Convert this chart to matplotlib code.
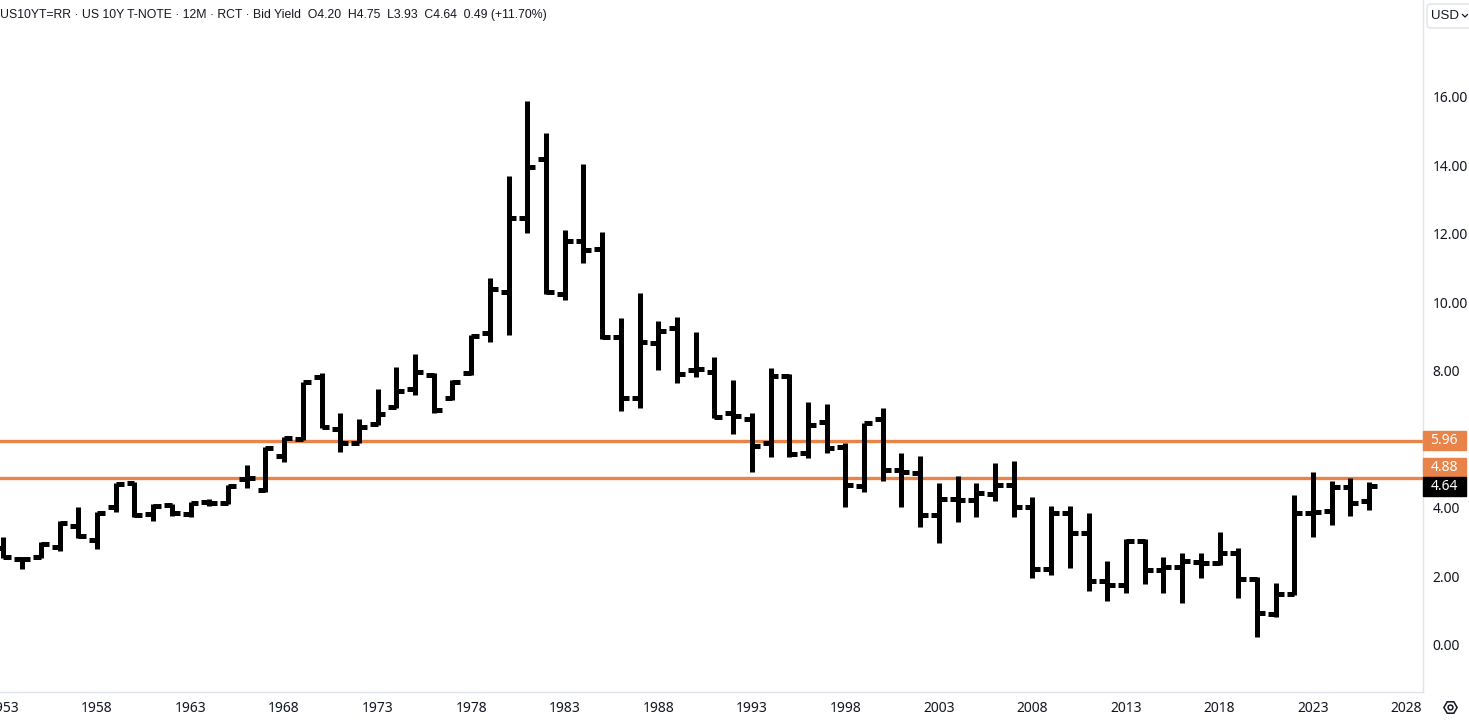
import matplotlib
matplotlib.use("Agg")
import matplotlib.pyplot as plt
import matplotlib.transforms as mtransforms
from matplotlib.patches import Rectangle, FancyBboxPatch
from matplotlib.lines import Line2D
import numpy as np

# yearly OHLC of the US 10Y yield
years = list(range(1953, 2027))
opens = [2.83, 2.50, 2.57, 2.86, 3.47, 3.07, 4.04, 4.72, 3.82, 4.09,
         3.82, 4.17, 4.15, 4.86, 4.53, 5.52, 6.01, 7.82, 6.31, 5.90,
         6.45, 6.95, 7.47, 7.88, 7.21, 7.94, 9.11, 10.31, 12.47, 14.19,
         10.25, 11.80, 11.56, 8.99, 7.21, 8.82, 9.26, 8.03, 7.97, 6.77,
         6.60, 5.90, 7.85, 5.61, 6.51, 5.78, 4.64, 6.60, 5.11, 5.02,
         3.80, 4.26, 4.23, 4.41, 4.67, 4.03, 2.22, 3.85, 3.27, 1.87,
         1.75, 3.04, 2.19, 2.28, 2.42, 2.40, 2.68, 1.92, 0.91, 1.49,
         3.85, 3.90, 4.60, 4.20]
highs = [3.15, 2.58, 3.00, 3.62, 4.03, 3.88, 4.74, 4.76, 4.12, 4.12,
         4.18, 4.26, 4.67, 5.26, 5.78, 6.07, 7.68, 7.94, 6.77, 6.60,
         7.47, 8.12, 8.50, 7.94, 7.74, 9.05, 10.72, 13.69, 15.88, 14.95,
         12.12, 14.04, 12.06, 9.55, 10.28, 9.46, 9.58, 9.14, 8.41, 7.74,
         6.77, 8.09, 7.91, 7.09, 7.04, 5.90, 6.48, 6.92, 5.61, 5.52,
         4.73, 4.93, 4.73, 5.31, 5.37, 4.32, 4.06, 4.06, 3.85, 2.45,
         3.09, 3.09, 2.57, 2.69, 2.69, 3.30, 2.83, 1.99, 1.81, 4.38,
         5.05, 4.79, 4.88, 4.75]
lows = [2.54, 2.22, 2.54, 2.74, 3.12, 2.80, 3.88, 3.74, 3.62, 3.77,
        3.74, 4.06, 4.12, 4.58, 4.47, 5.34, 5.99, 6.34, 5.64, 5.90,
        6.42, 6.92, 7.30, 6.77, 7.15, 7.88, 8.85, 9.05, 12.03, 10.25,
        10.07, 11.15, 8.93, 6.83, 6.92, 8.03, 7.65, 7.82, 6.63, 6.16,
        5.05, 5.49, 5.49, 5.46, 5.61, 4.03, 4.47, 4.79, 4.03, 3.45,
        2.98, 3.59, 3.74, 4.20, 3.74, 1.96, 2.04, 2.25, 1.58, 1.28,
        1.52, 1.78, 1.52, 1.23, 1.96, 2.34, 1.37, 0.23, 0.82, 1.46,
        3.15, 3.50, 3.77, 3.93]
closes = [2.57, 2.52, 2.96, 3.56, 3.18, 3.85, 4.70, 3.80, 4.06, 3.85,
          4.14, 4.15, 4.64, 4.88, 5.75, 6.04, 7.68, 6.37, 5.90, 6.37,
          6.74, 7.42, 7.97, 6.86, 7.68, 9.02, 10.39, 12.47, 13.96, 10.31,
          11.80, 11.53, 8.99, 7.21, 8.85, 9.17, 7.91, 8.06, 6.66, 6.69,
          5.81, 7.85, 5.58, 6.42, 5.75, 4.67, 6.48, 5.11, 5.05, 3.80,
          4.26, 4.23, 4.44, 4.67, 4.03, 2.22, 3.85, 3.27, 1.87, 1.75,
          3.04, 2.19, 2.28, 2.45, 2.40, 2.69, 1.92, 0.93, 1.49, 3.85,
          3.87, 4.61, 4.15, 4.64]

x_ticks = list(range(1953, 2029, 5))
y_ticks = [0, 2, 4, 8, 10, 12, 14, 16]
level_lines = [5.96, 4.88]
last_close = 4.64
header = ("US10YT=RR \u00b7 US 10Y T-NOTE \u00b7 12M \u00b7 RCT \u00b7 Bid Yield  "
          "O4.20  H4.75  L3.93  C4.64  0.49 (+11.70%)")

W, H = 1469, 720
orange = "#e8834a"
txt = "#131722"
grey = "#e0e3eb"

fig = plt.figure(figsize=(W / 100, H / 100), dpi=100)
ax_w, ax_b, ax_h = 1422.7, 28.3, 691.7
ax = fig.add_axes([0, ax_b / H, ax_w / W, ax_h / H])

yrs = np.array(years)
tick = 0.42
v = ax.vlines(yrs, lows, highs, color="black", lw=3.6, zorder=3)
o = ax.hlines(opens, yrs - tick, yrs, color="black", lw=3.6, zorder=3)
c = ax.hlines(closes, yrs, yrs + tick, color="black", lw=3.6, zorder=3)
for coll in (v, o, c):
    coll.set_capstyle("butt")

for lvl in level_lines:
    ax.axhline(lvl, color=orange, lw=2.4, zorder=1)

ax.set_xlim(1952.815, 2028.86)
ax.set_ylim(-1.3635, 18.832)

ax.yaxis.tick_right()
ax.set_yticks(y_ticks)
ax.set_yticklabels(["%.2f" % t for t in y_ticks])
ax.set_xticks(x_ticks)
ax.set_xticklabels([str(t) for t in x_ticks])
ax.tick_params(axis="both", length=0, labelsize=10, labelcolor=txt)
ax.tick_params(axis="y", pad=7)
ax.tick_params(axis="x", pad=7)
for lab in ax.get_xticklabels() + ax.get_yticklabels():
    lab.set_family("Noto Sans")

for s in ("left", "top"):
    ax.spines[s].set_visible(False)
for s in ("right", "bottom"):
    ax.spines[s].set_color(grey)
    ax.spines[s].set_linewidth(1)

# price labels on the right scale
px_per_unit = ax_h / (18.832 + 1.3635)
box_w = 43 / ax_w
box_h = 19 / px_per_unit
trans = mtransforms.blended_transform_factory(ax.transAxes, ax.transData)
labels = [(5.96, 5.96, orange), (4.88, last_close + box_h, orange),
          (last_close, last_close, "black")]
for val, centre, col in labels:
    ax.add_patch(Rectangle((1.0, centre - box_h / 2), box_w, box_h,
                           transform=trans, color=col, clip_on=False, zorder=5))
    ax.text(1.0 + box_w / 2, centre, "%.2f" % val, transform=trans,
            ha="center", va="center", color="white", fontsize=10,
            family="Noto Sans", zorder=6, clip_on=False)

fig.text(0.5 / W, 1 - 15 / H, header, ha="left", va="center",
         fontsize=8.8, color=txt, family="Liberation Sans")

# currency button
ident = mtransforms.IdentityTransform()
fig.add_artist(FancyBboxPatch((1427, H - 28), 50, 24,
                              boxstyle="round,pad=0,rounding_size=4",
                              fc="white", ec=grey, lw=1, transform=ident))
fig.text(1431 / W, 1 - 16 / H, "USD", ha="left", va="center",
         fontsize=9.5, color=txt, family="Liberation Sans")
fig.add_artist(Line2D([1462.5, 1465, 1467.5], [H - 14.5, H - 17, H - 14.5],
                      color=txt, lw=0.9, transform=ident))

# settings icon
fig.add_artist(Line2D([1450 / W], [1 - 707 / H], marker="H", ms=9.5,
                      mfc="none", mec=txt, mew=1.1, transform=fig.transFigure))
fig.add_artist(Line2D([1450 / W], [1 - 707 / H], marker="o", ms=3.5,
                      mfc="none", mec=txt, mew=1.1, transform=fig.transFigure))

fig.savefig("out.png", dpi=100)
